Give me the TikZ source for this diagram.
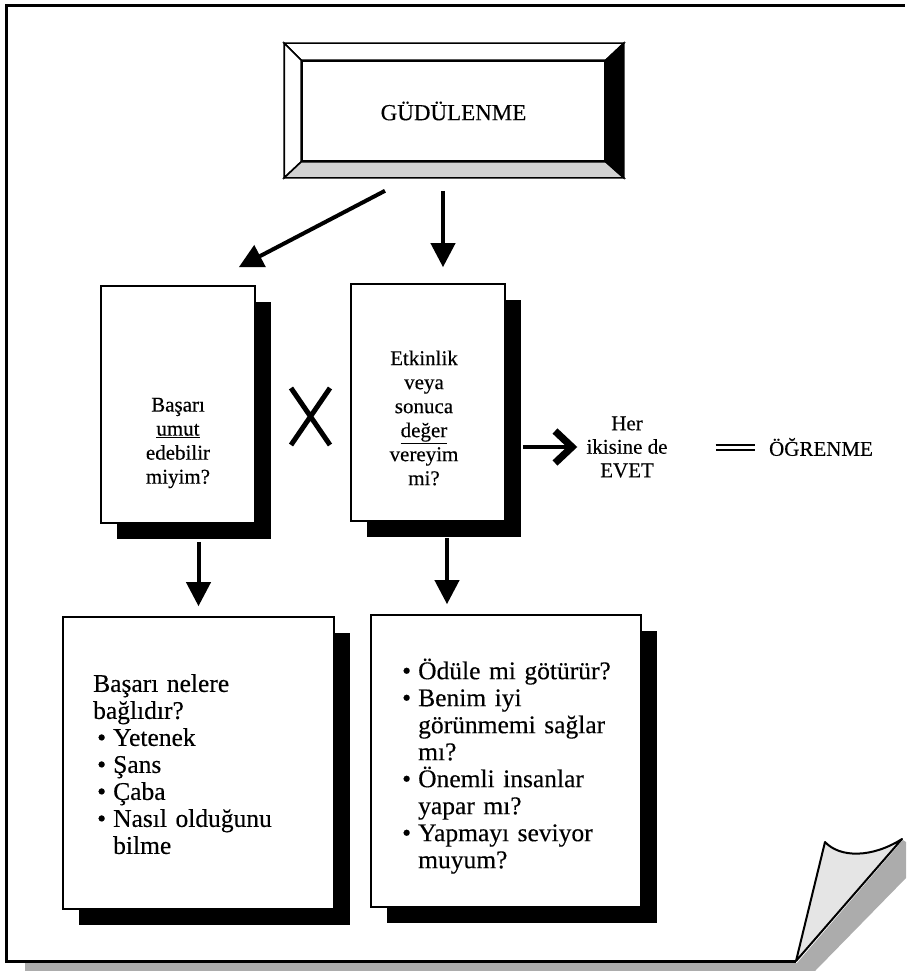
\documentclass[tikz,border=0pt]{standalone}
\usepackage{fontspec}
\setmainfont{Liberation Serif}[FakeBold=0.3]
\usetikzlibrary{arrows.meta,calc,shadows}

% madde isareti olan satir (devam satirlari iceri girer)
\newcommand{\madde}[1]{\par\hangindent=20pt\hangafter=1\noindent\makebox[20pt][l]{\hspace{4pt}\textbullet}#1}

\begin{document}
\begin{tikzpicture}[x=1pt,y=-1pt]

% --- Define Styles ---
\tikzset{
    sayfa/.style={line width=3pt, line join=miter},
    kutu/.style={draw, line width=1.6pt, fill=white, inner sep=0pt,
        drop shadow={shadow xshift=16pt, shadow yshift=-16pt, fill=black, opacity=1}},
    ok/.style={line width=4pt, -{Triangle[length=24pt, width=24pt]}},
    barbok/.style={line width=4.5pt, -{Straight Barb[length=17pt, width=32pt, line width=0pt 1.6]}},
    esit/.style={double, double distance=3pt, line width=2pt},
    ustyazi/.style={font=\fontsize{21}{24}\selectfont, align=center, inner sep=0pt},
    altyazi/.style={font=\fontsize{25.5}{27}\selectfont, text width=240pt, align=left,
        inner sep=0pt, anchor=north west}
}

\useasboundingbox (0,0) rectangle (910,971);

% ================= SAYFA =================
\fill[gray!65] (25,963) -- (797,963) -- (903,840) -- (906,842) -- (906,878) -- (815,971) -- (25,971) -- cycle;
\draw[sayfa] (796,961) -- (6,961) -- (6,6) -- (905,6);
\filldraw[line width=2pt, fill=gray!20, line join=round] (796,961) -- (825,842)
    .. controls (840,858) and (872,858) .. (902,839) -- cycle;

% ================= GÜDÜLENME =================
\node[draw, line width=1.6pt, minimum width=338pt, minimum height=133pt, inner sep=0pt] (ust) at (454,110.5) {};
\node[draw, line width=1.6pt, minimum width=303pt, minimum height=100pt,
    font=\fontsize{23}{26}\selectfont] (ic) at (453.5,111) {GÜDÜLENME};
\filldraw[line width=1.6pt, fill=white] (ust.north west) -- (ust.north east) -- (ic.north east) -- (ic.north west) -- cycle;
\filldraw[line width=1.6pt, fill=white] (ust.north west) -- (ic.north west) -- (ic.south west) -- (ust.south west) -- cycle;
\filldraw[line width=1.6pt, fill=gray!35] (ust.south west) -- (ic.south west) -- (ic.south east) -- (ust.south east) -- cycle;
\filldraw[line width=1.6pt, fill=black] (ust.north east) -- (ic.north east) -- (ic.south east) -- (ust.south east) -- cycle;

% ================= ORTA SIRA =================
\node[kutu, minimum width=154pt, minimum height=237pt] (lkutu) at (178,404.5) {};
\node[kutu, minimum width=154pt, minimum height=237pt] (mkutu) at (428,402.5) {};
\node[ustyazi] (lmetin) at (178,443) {Başarı\\\underline{umut}\\edebilir\\miyim?};
\node[ustyazi] (mmetin) at (424,418) {Etkinlik\\veya\\sonuca\\\underline{değer}\\vereyim\\mi?};

% carpi isareti
\draw[line width=5pt] (291,388) -- (330,445) (330,388) -- (291,445);

\draw[ok] ($(ust.south)+(-69,13)$) -- ($(lkutu.north east)+(-17,-18)$);
\draw[ok] ($(ust.south)+(-11,13)$) -- ($(mkutu.north)+(15,-16)$);

% ================= SONUC =================
\node[ustyazi, font=\fontsize{21}{23.5}\selectfont, inner sep=3pt] (evet) at (627,447) {Her\\ikisine de\\EVET};
\node[font=\fontsize{21}{24}\selectfont, inner sep=2pt] (ogrenme) at (821,447) {ÖĞRENME};
\draw[barbok, shorten >=6pt] ($(mkutu.east |- evet.west)+(17,0)$) -- (evet.west);
\draw[esit, shorten <=45pt, shorten >=12pt] (evet.east) -- (ogrenme.west);

% ================= ALT SIRA =================
\node[kutu, minimum width=271pt, minimum height=292pt] (lalt) at (198.5,763) {};
\node[kutu, minimum width=270pt, minimum height=292pt] (ralt) at (506,761) {};
\node[altyazi] (laltmetin) at (93,674) {Başarı nelere\newline bağlıdır?
    \madde{Yetenek}
    \madde{Şans}
    \madde{Çaba}
    \madde{Nasıl olduğunu\newline bilme}\par};
\node[altyazi] (raltmetin) at (398,652) {\madde{Ödüle mi götürür?}
    \madde{Benim iyi\newline görünmemi sağlar\newline mı?}
    \madde{Önemli insanlar\newline yapar mı?}
    \madde{Yapmayı seviyor\newline muyum?}\par};

\draw[ok] ($(lkutu.south -| lalt.north)+(0,18)$) -- ($(lalt.north)+(0,-10)$);
\draw[ok] ($(mkutu.south)+(19,16)$) -- ($(ralt.north -| mkutu.south)+(19,-10)$);

\end{tikzpicture}
\end{document}
